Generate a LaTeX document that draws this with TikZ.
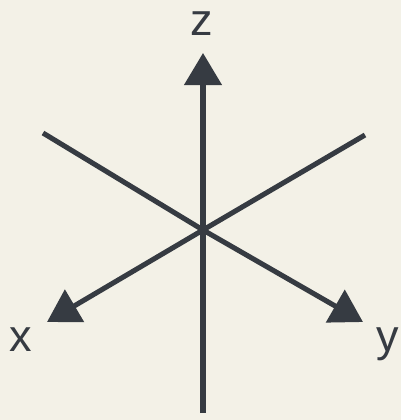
\documentclass[tikz,border=0pt]{standalone}
\usepackage{fontspec}
\setmainfont{Liberation Sans}
\usetikzlibrary{arrows.meta}
\definecolor{paper}{HTML}{F3F1E7}
\definecolor{axisink}{HTML}{363B42}
\tikzset{
  axis/.style={draw=axisink,line width=3.6pt,line cap=butt},
  axisarrow/.style={axis,-{Triangle[length=0.8cm,width=0.92cm]}},
  axislabel/.style={text=axisink,inner sep=0pt,anchor=base,font=\fontsize{32}{38}\selectfont}
}
\begin{document}
\begin{tikzpicture}[x=0.025cm,y=-0.025cm]
\fill[paper] (0,0) rectangle (401,420);
\useasboundingbox (0,0) rectangle (401,420);

\coordinate (o) at (203,230);
\coordinate (zbot) at (203,413);
\coordinate (ztip) at (203,53);
\coordinate (ul) at (43,133);
\coordinate (ur) at (365,135);
\coordinate (xtip) at (47,322);
\coordinate (ytip) at (363,322);

\draw[axisarrow] (zbot) -- (o) -- (ztip);
\draw[axisarrow] (ur) -- (o) -- (xtip);
\draw[axisarrow] (ul) -- (o) -- (ytip);

\node[axislabel] (zlab) at (202,36) {z};
\node[axislabel] (xlab) at (21,351) {x};
\node[axislabel] (ylab) at (388,351) {y};
\end{tikzpicture}
\end{document}
